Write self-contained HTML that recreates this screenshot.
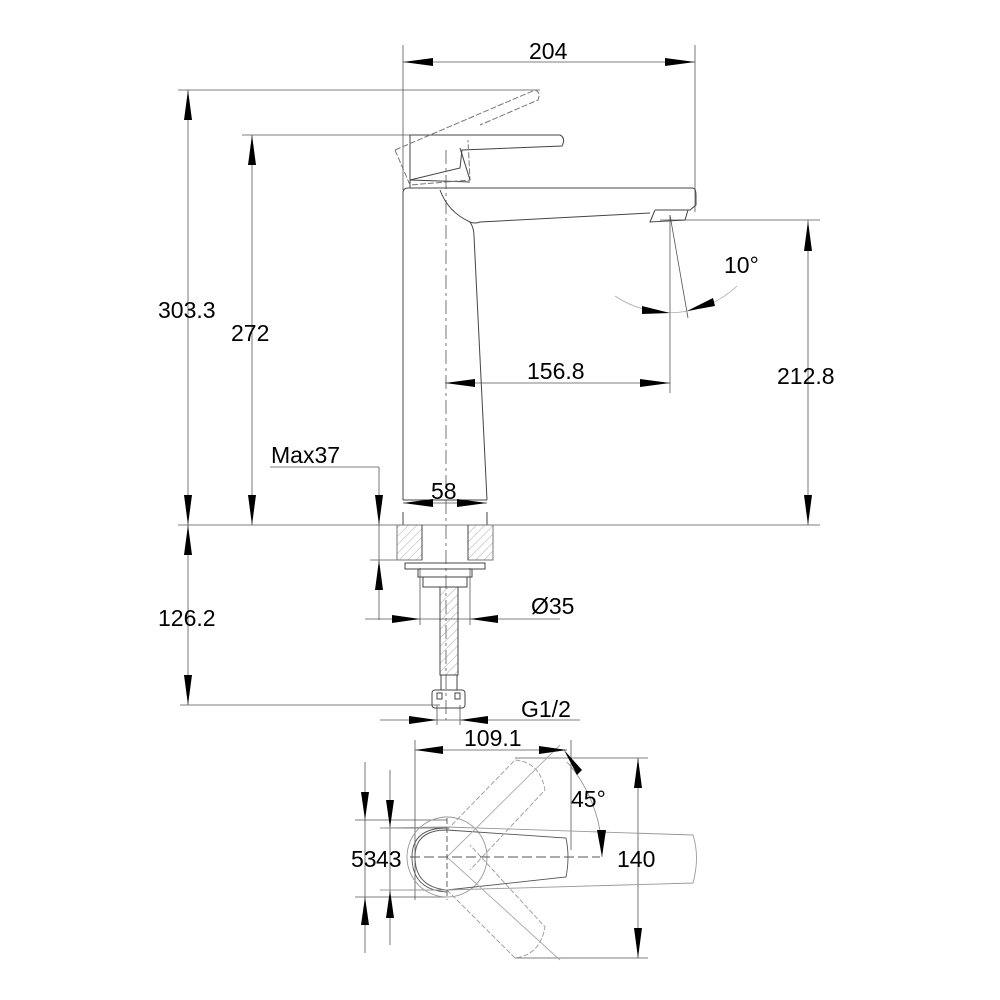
<!DOCTYPE html>
<html><head><meta charset="utf-8"><style>
html,body{margin:0;padding:0;background:#fff;}
svg{display:block;}
text{font-family:"Liberation Sans",Arial,sans-serif;font-size:23px;fill:#000;}
</style></head><body>
<svg width="1000" height="1000" viewBox="0 0 1000 1000" xmlns="http://www.w3.org/2000/svg">
<defs>
<pattern id="h" width="6" height="6" patternUnits="userSpaceOnUse" patternTransform="rotate(45)">
<line x1="0" y1="0" x2="0" y2="6" stroke="#888" stroke-width="0.7"/></pattern>
</defs>
<g fill="none" stroke="#555" stroke-width="0.8">
<line x1="403" y1="45" x2="403" y2="190"/>
<line x1="695" y1="45" x2="695" y2="212"/>
<line x1="403" y1="62" x2="695" y2="62"/>
<line x1="178" y1="90" x2="540" y2="90"/>
<line x1="188" y1="90" x2="188" y2="525"/>
<line x1="242" y1="135" x2="410" y2="135"/>
<line x1="252" y1="135" x2="252" y2="525"/>
<line x1="178" y1="525" x2="820" y2="525"/>
<line x1="660" y1="220" x2="820" y2="220"/>
<line x1="808" y1="220" x2="808" y2="525"/>
<line x1="445" y1="383" x2="670" y2="383"/>
<line x1="670" y1="215" x2="670" y2="393"/>
<line x1="670" y1="215" x2="688" y2="318"/>
<path d="M615,296 A98,98 0 0 0 737,286" stroke="#aaa"/>
<line x1="446" y1="150" x2="446" y2="720" stroke-dasharray="14,4,3,4"/>
<line x1="270" y1="467" x2="379" y2="467"/>
<line x1="379" y1="467" x2="379" y2="620"/>
<line x1="370" y1="560" x2="400" y2="560"/>
<line x1="403" y1="503" x2="487" y2="503"/>
<line x1="180" y1="705" x2="440" y2="705"/>
<line x1="188" y1="525" x2="188" y2="705"/>
<line x1="365" y1="619" x2="560" y2="619"/>
<line x1="420" y1="568" x2="420" y2="625"/>
<line x1="470" y1="568" x2="470" y2="625"/>
<line x1="380" y1="720" x2="580" y2="720"/>
<line x1="437" y1="705" x2="437" y2="725"/>
<line x1="460" y1="705" x2="460" y2="725"/>
<line x1="415" y1="750" x2="567" y2="750"/>
<line x1="415" y1="740" x2="415" y2="900"/>
<line x1="571" y1="740" x2="571" y2="850"/>
<line x1="515" y1="758" x2="648" y2="758"/>
<line x1="515" y1="958" x2="648" y2="958"/>
<line x1="638" y1="758" x2="638" y2="958"/>
<line x1="365" y1="762" x2="365" y2="953"/>
<line x1="390" y1="770" x2="390" y2="945"/>
<line x1="355" y1="820" x2="447" y2="820"/>
<line x1="355" y1="897" x2="447" y2="897"/>
<line x1="380" y1="828" x2="447" y2="828"/>
<line x1="380" y1="890" x2="447" y2="890"/>
<path d="M567,762 A140,140 0 0 1 602,857" stroke="#888"/>
</g>
<g fill="none" stroke="#444" stroke-width="1">
<path d="M403,500 L403,193 Q403,188 408,188 L692,188 Q696,188 696,195 L696,205 L690,210 L655,210"/>
<path d="M440,190 Q448,212 470,222 Q475,224 480,222 L650,213"/>
<path d="M470,222 Q474,228 474,236 L487,500"/>
<line x1="403" y1="500" x2="487" y2="500"/>
<line x1="403" y1="512" x2="403" y2="525"/><line x1="487" y1="512" x2="487" y2="525"/>
<path d="M655,210 L650,222 L685,220 L688,210"/>
<path d="M410,135 L560,135 Q566,138 562,146 L462,150 L460,168 L410,180 Z"/>
<line x1="410" y1="180" x2="470" y2="182"/>
<line x1="410" y1="180" x2="410" y2="188"/>
<path d="M395,150 L535,90 Q541,92 538,100 L480,125 M395,150 L410,185 L470,180 L468,140" stroke="#777" stroke-dasharray="6,2"/>
<line x1="460" y1="148" x2="470" y2="180"/>
<rect x="397" y="525" width="25" height="35" fill="url(#h)" stroke="#777"/>
<rect x="468" y="525" width="25" height="35" fill="url(#h)" stroke="#777"/>
<line x1="422" y1="525" x2="422" y2="560"/><line x1="468" y1="525" x2="468" y2="560"/>
<rect x="405" y="563" width="80" height="6"/>
<rect x="418" y="569" width="54" height="8"/>
<rect x="423" y="577" width="44" height="10"/>
<rect x="440" y="587" width="18" height="88" fill="url(#h)"/>
<rect x="441" y="675" width="16" height="15"/>
<rect x="432" y="690" width="33" height="18" rx="3"/>
<rect x="437" y="693" width="5" height="6"/><rect x="455" y="693" width="5" height="6"/>
</g>
<g fill="none" stroke="#555" stroke-width="0.9">
<circle cx="447" cy="857" r="40" stroke="#999"/>
<path d="M447,830 Q415,830 415,857 Q415,887 447,890 L566,877 Q570,857 566,838 Z"/>
<path d="M447,828 Q412,828 412,857 Q412,890 447,892"/>
<path d="M380,828 L447,827 L693,835 Q700,857 693,883 L447,890 L380,890" stroke="#999"/>
<path d="M447,830 L515,760 Q540,762 545,790 L470,870" stroke="#999" stroke-dasharray="5,2"/>
<path d="M447,890 L515,958 Q540,955 545,927 L470,845" stroke="#999" stroke-dasharray="5,2"/>
<line x1="447" y1="857" x2="560" y2="745" stroke="#aaa"/>
<line x1="447" y1="857" x2="560" y2="960" stroke="#aaa"/>
<line x1="410" y1="857" x2="600" y2="857" stroke-dasharray="10,4"/>
<line x1="447" y1="818" x2="447" y2="900" stroke-dasharray="6,3"/>
</g>
<g fill="#000">
<polygon points="403,62 433,58 433,66"/><polygon points="695,62 665,58 665,66"/>
<polygon points="188,90 184,120 192,120"/><polygon points="188,525 184,495 192,495"/>
<polygon points="252,135 248,165 256,165"/><polygon points="252,525 248,495 256,495"/>
<polygon points="808,221 804,251 812,251"/><polygon points="808,525 804,495 812,495"/>
<polygon points="445,383 475,379 475,387"/><polygon points="670,383 640,379 640,387"/>
<polygon points="670,313 642,306 642,314"/><polygon points="687,311 713,298 715,306"/>
<polygon points="379,525 375,495 383,495"/><polygon points="379,560 375,590 383,590"/>
<polygon points="188,525 184,555 192,555"/><polygon points="188,705 184,675 192,675"/>
<polygon points="403,503 433,499 433,507"/><polygon points="487,503 457,499 457,507"/>
<polygon points="420,619 392,615 392,623"/><polygon points="470,619 498,615 498,623"/>
<polygon points="437,720 409,716 409,724"/><polygon points="460,720 488,716 488,724"/>
<polygon points="415,750 443,746 443,754"/><polygon points="567,750 539,746 539,754"/>
<polygon points="564,750 582,770 577,775"/><polygon points="602,857 597,830 606,830"/>
<polygon points="638,758 634,788 642,788"/><polygon points="638,958 634,928 642,928"/>
<polygon points="365,820 361,792 369,792"/><polygon points="365,897 361,925 369,925"/>
<polygon points="390,828 386,800 394,800"/><polygon points="390,890 386,918 394,918"/>
</g>
<g>
<text x="529" y="59">204</text>
<text x="158" y="318">303.3</text>
<text x="231" y="341">272</text>
<text x="777" y="384">212.8</text>
<text x="527" y="379">156.8</text>
<text x="724" y="273">10°</text>
<text x="271" y="463">Max37</text>
<text x="431" y="499">58</text>
<text x="158" y="626">126.2</text>
<text x="531" y="614">Ø35</text>
<text x="521" y="717">G1/2</text>
<text x="464" y="746">109.1</text>
<text x="571" y="807">45°</text>
<text x="617" y="867">140</text>
<text x="351" y="867">53</text><text x="376" y="867">43</text>
</g>
</svg>
</body></html>
